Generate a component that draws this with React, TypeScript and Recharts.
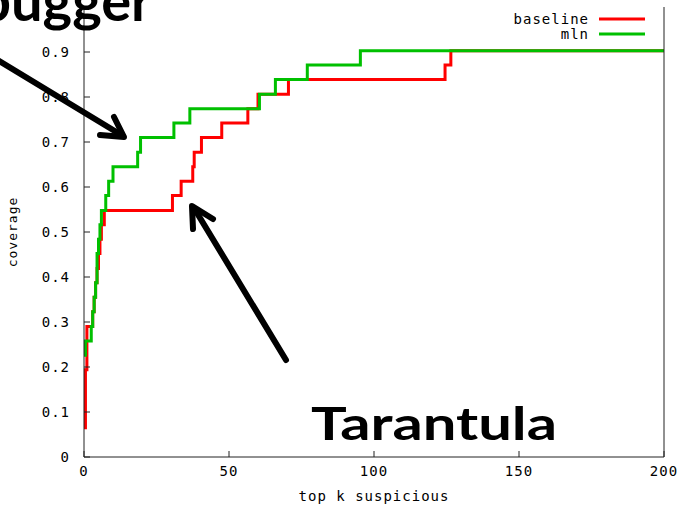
import { LineChart, Line, XAxis, YAxis, Legend } from 'recharts';

const baselineK = [0, 0.5, 1, 3, 3.5, 4, 4.5, 5, 5.5, 6, 7, 30.5, 33.5, 37.5, 38, 40.5, 47.5, 56.5, 60, 70.5, 124.5, 126.5, 200];
const baselineCov = [0.065, 0.194, 0.29, 0.323, 0.355, 0.387, 0.419, 0.452, 0.484, 0.516, 0.548, 0.581, 0.613, 0.645, 0.677, 0.71, 0.742, 0.774, 0.806, 0.839, 0.871, 0.903, 0.903];

const mlnK = [0, 0.5, 2.5, 3, 3.5, 4, 4.5, 5, 5.5, 6, 7.5, 8.5, 10, 18.5, 19.5, 31, 36.5, 60.5, 66, 77, 95.3, 200];
const mlnCov = [0.226, 0.258, 0.29, 0.323, 0.355, 0.387, 0.452, 0.484, 0.516, 0.548, 0.581, 0.613, 0.645, 0.677, 0.71, 0.742, 0.774, 0.806, 0.839, 0.871, 0.903, 0.903];

const xTicks = [0, 50, 100, 150, 200];
const yTicks = [0, 0.1, 0.2, 0.3, 0.4, 0.5, 0.6, 0.7, 0.8, 0.9];

const baselineData = baselineK.map((k, i) => ({ k, cov: baselineCov[i] }));
const mlnData = mlnK.map((k, i) => ({ k, cov: mlnCov[i] }));

const mono = { fontFamily: '"DejaVu Sans Mono", monospace', fontSize: 14, letterSpacing: 1, fill: '#000' };
const axisLine = { stroke: '#222', strokeWidth: 1 };

const noLabel = () => <text />;

function KeyBox(props: any) {
  const items = props.payload || [];
  return (
    <svg width={200} height={40}>
      {items.map((it: any, i: number) => (
        <g key={it.value}>
          <text x={129} y={14 + i * 15} textAnchor="end" dominantBaseline="central" style={mono}>
            {it.value}
          </text>
          <line x1={139} x2={185} y1={14 + i * 15} y2={14 + i * 15} stroke={it.color} strokeWidth={3} />
        </g>
      ))}
    </svg>
  );
}

export default function App() {
  return (
    <div style={{ position: 'absolute', left: 0, top: 0, width: 683, height: 512, background: '#fff' }}>
      <LineChart width={683} height={512} margin={{ top: 7, right: 0, bottom: 0, left: 0 }}>
        <XAxis
          xAxisId="b"
          type="number"
          dataKey="k"
          domain={[0, 200]}
          ticks={xTicks}
          height={55}
          tickSize={-6}
          tickMargin={15}
          axisLine={axisLine}
          tickLine={axisLine}
          tick={mono}
          label={{ value: 'top k suspicious', position: 'insideBottom', offset: 11, style: mono }}
        />
        <XAxis
          xAxisId="t"
          orientation="top"
          type="number"
          dataKey="k"
          domain={[0, 200]}
          ticks={xTicks}
          height={0}
          tickSize={-6}
          axisLine={axisLine}
          tickLine={axisLine}
          tick={noLabel}
        />
        <YAxis
          yAxisId="l"
          type="number"
          domain={[0, 1]}
          ticks={yTicks}
          width={84}
          tickSize={-6}
          tickMargin={20}
          axisLine={axisLine}
          tickLine={axisLine}
          tick={mono}
          label={{ value: 'coverage', angle: -90, position: 'insideLeft', offset: 12, style: { ...mono, fontSize: 13, textAnchor: 'middle' } }}
        />
        <YAxis
          yAxisId="r"
          orientation="right"
          type="number"
          domain={[0, 1]}
          ticks={yTicks}
          width={19}
          tickSize={-6}
          axisLine={axisLine}
          tickLine={axisLine}
          tick={noLabel}
        />
        <Legend
          layout="vertical"
          align="center"
          verticalAlign="middle"
          content={KeyBox}
          wrapperStyle={{ top: 5, left: 460, width: 200, height: 40 }}
        />
        <Line
          xAxisId="b"
          yAxisId="l"
          data={baselineData}
          dataKey="cov"
          name="baseline"
          type="stepAfter"
          stroke="#ff0000"
          strokeWidth={3}
          dot={false}
          isAnimationActive={false}
        />
        <Line
          xAxisId="b"
          yAxisId="l"
          data={mlnData}
          dataKey="cov"
          name="mln"
          type="stepAfter"
          stroke="#00c000"
          strokeWidth={3}
          dot={false}
          isAnimationActive={false}
        />
      </LineChart>
      <svg width={683} height={512} style={{ position: 'absolute', left: 0, top: 0, pointerEvents: 'none' }}>
        <text x={152} y={21} textAnchor="end" style={{ fontFamily: 'Lato, sans-serif', fontWeight: 700, fontSize: 56, fill: '#000' }}>
          Debugger
        </text>
        <text x={311} y={440} textLength={246} lengthAdjust="spacingAndGlyphs" style={{ fontFamily: 'Lato, sans-serif', fontWeight: 700, fontSize: 46, fill: '#000' }}>
          Tarantula
        </text>
        <g stroke="#000" strokeWidth={6} strokeLinecap="round" strokeLinejoin="round" fill="none">
          <line x1={-4} y1={59} x2={123} y2={136} />
          <polyline points="100,135 124,137 114,117" />
          <line x1={286} y1={360} x2={194} y2={208} />
          <polyline points="193,229 192,206 213,219" />
        </g>
      </svg>
    </div>
  );
}
